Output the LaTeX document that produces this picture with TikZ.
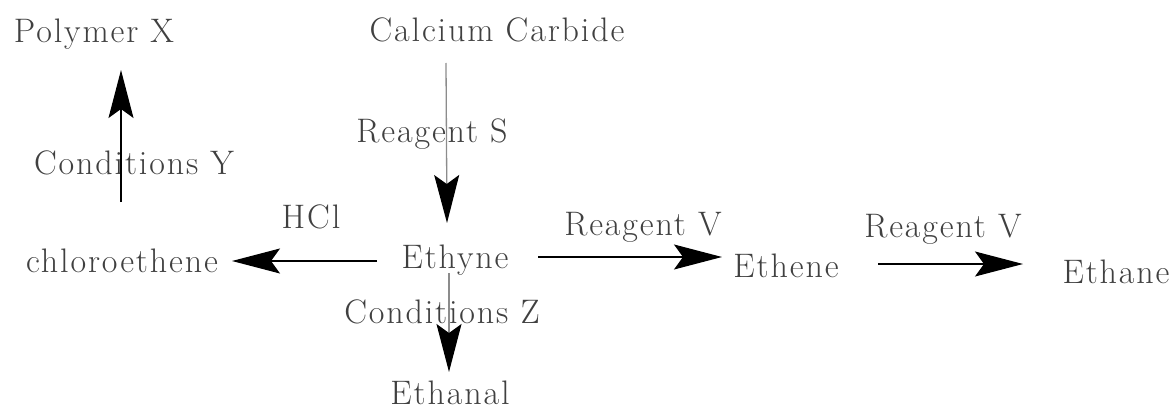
\documentclass[tikz,border=0pt]{standalone}
\usepackage{fontspec}
\newfontfamily\spacedlm{Latin Modern Roman}[LetterSpace=5.5]
\usetikzlibrary{arrows.meta,calc}
\begin{document}
\begin{tikzpicture}[x=1pt,y=-1pt,
  lbl/.style={anchor=base,inner sep=0pt,text=black!75,
    font=\spacedlm\fontsize{34}{40}\selectfont},
  head/.style={-{Stealth[length=48pt,width=25pt,inset=9pt,black]}},
  darr/.style={head,draw=black,line width=1.3pt},
  garr/.style={head,draw=black!45,line width=1.3pt}]
\useasboundingbox (0,0) rectangle (1173,409);
% compounds
\node[lbl] (poly)   at (94,43)   {Polymer X};
\node[lbl] (cc)     at (497,42)  {Calcium Carbide};
\node[lbl] (chloro) at (122,272) {chloroethene};
\node[lbl] (ethyne) at (455,268) {Ethyne};
\node[lbl] (ethene) at (786,277) {Ethene};
\node[lbl] (ethane) at (1116,283){Ethane};
\node[lbl] (ethanal) at (450,404){Ethanal};
% reagents and conditions
\node[lbl] (rS)  at (432,143) {Reagent S};
\node[lbl] (cY)  at (134,175) {Conditions Y};
\node[lbl] (hcl) at (311,228) {HCl};
\node[lbl] (rV1) at (643,235) {Reagent V};
\node[lbl] (rV2) at (943,237) {Reagent V};
\node[lbl] (cZ)  at (442,323) {Conditions Z};
% reactions
\draw[darr] ($(chloro.base)+(-1,-70)$) -- ($(poly.base)+(27,27)$);
\draw[garr] ($(cc.base)+(-51,21)$) -- ($(ethyne.base)+(-8,-45)$);
\draw[darr] ($(ethyne.base)+(-78,-7)$) -- ($(chloro.base)+(110,-11)$);
\draw[garr] ($(ethyne.base)+(-6,5)$) -- ($(ethanal.base)+(-1,-32)$);
\draw[darr] ($(ethyne.base)+(83,-11)$) -- ($(ethene.base)+(-64,-20)$);
\draw[darr] ($(ethene.base)+(92,-13)$) -- ($(ethane.base)+(-93,-19)$);
\end{tikzpicture}
\end{document}
